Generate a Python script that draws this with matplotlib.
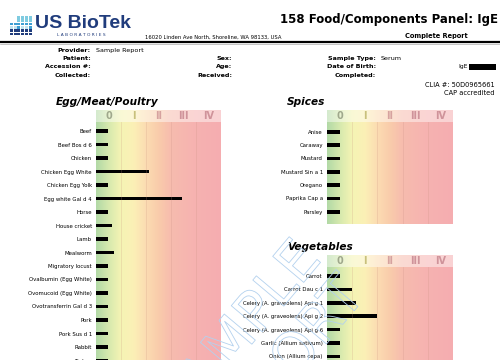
import numpy as np
import matplotlib
matplotlib.use('Agg')
import matplotlib.pyplot as plt
from matplotlib.colors import LinearSegmentedColormap
import matplotlib.patheffects as pe

# report data (bar lengths in class units, 0..5)
class_labels = ['0', 'I', 'II', 'III', 'IV']

egg_labels = ['Beef', 'Beef Bos d 6', 'Chicken', 'Chicken Egg White', 'Chicken Egg Yolk',
              'Egg white Gal d 4', 'Horse', 'House cricket', 'Lamb', 'Mealworm',
              'Migratory locust', 'Ovalbumin (Egg White)', 'Ovomucoid (Egg White)',
              'Ovotransferrin Gal d 3', 'Pork', 'Pork Sus d 1', 'Rabbit', 'Turkey']
egg_values = [0.48, 0.48, 0.48, 2.12, 0.48, 3.44, 0.48, 0.64, 0.48, 0.72,
              0.48, 0.48, 0.48, 0.48, 0.48, 0.48, 0.48, 0.48]

spice_labels = ['Anise', 'Caraway', 'Mustard', 'Mustard Sin a 1', 'Oregano',
                'Paprika Cap a', 'Parsley']
spice_values = [0.52, 0.52, 0.52, 0.52, 0.52, 0.52, 0.52]

veg_labels = ['Carrot', 'Carrot Dau c 1', 'Celery (A. graveolens) Api g 1',
              'Celery (A. graveolens) Api g 2', 'Celery (A. graveolens) Api g 6',
              'Garlic (Allium sativum)', 'Onion (Allium cepa)']
veg_values = [0.52, 1.0, 1.16, 2.0, 0.52, 0.52, 0.52]

W, H = 500, 360
fig = plt.figure(figsize=(5, 3.6), dpi=100)
fig.patch.set_facecolor('white')


def box(x0, y0, x1, y1):
    return [x0 / W, 1 - y1 / H, (x1 - x0) / W, (y1 - y0) / H]


bg = fig.add_axes([0, 0, 1, 1])
bg.set_xlim(0, W)
bg.set_ylim(H, 0)
bg.axis('off')

navy = '#203c7c'

# logo
for r in range(6):
    for c in range(6):
        if c < 2 and r < 2:
            continue
        if r < 2:
            col = '#7fcbe0'
        elif r < 4:
            col = '#3f9fd3' if (c in (2, 5) or r == 2) else '#c4e4ef'
        else:
            col = navy
        bg.add_patch(plt.Rectangle((10 + c * 3.7, 16 + r * 3.3), 3.0, 2.7, color=col, lw=0))
bg.text(35, 23, 'US BioTek', fontsize=14, fontweight='bold', color=navy,
        family='Liberation Sans', va='center', ha='left')
bg.text(81, 34.5, 'L A B O R A T O R I E S', fontsize=3.2, color=navy,
        va='center', ha='center')
bg.text(145, 37, '16020 Linden Ave North, Shoreline, WA 98133, USA', fontsize=3.8,
        va='center', ha='left')
bg.text(498, 20, '158 Food/Components Panel: IgE', fontsize=8.5, fontweight='bold',
        va='center', ha='right')
bg.text(436, 36, 'Complete Report', fontsize=4.8, fontweight='bold', va='center', ha='center')
bg.plot([0, W], [42, 42], color='k', lw=1.6)
bg.plot([0, W], [44, 44], color='#999999', lw=0.4)

# patient info block
rows_y = [50.5, 58.7, 66.9, 75.1]
left_keys = ['Provider:', 'Patient:', 'Accession #:', 'Collected:']
mid_keys = ['', 'Sex:', 'Age:', 'Received:']
right_keys = ['', 'Sample Type:', 'Date of Birth:', 'Completed:']
for yy, a, b, c in zip(rows_y, left_keys, mid_keys, right_keys):
    bg.text(91, yy, a, fontsize=4.6, fontweight='bold', ha='right', va='center')
    bg.text(232, yy, b, fontsize=4.6, fontweight='bold', ha='right', va='center')
    bg.text(376, yy, c, fontsize=4.6, fontweight='bold', ha='right', va='center')
bg.text(96, rows_y[0], 'Sample Report', fontsize=4.6, ha='left', va='center')
bg.text(381, rows_y[1], 'Serum', fontsize=4.6, ha='left', va='center')
bg.text(458, rows_y[2], 'IgE', fontsize=4.4, ha='left', va='center')
bg.add_patch(plt.Rectangle((469, 64), 27, 5.5, color='k', lw=0))
bg.text(495, 85, 'CLIA #: 50D0965661', fontsize=4.8, ha='right', va='center')
bg.text(495, 93.3, 'CAP accredited', fontsize=4.8, ha='right', va='center')

# class colour scale
stops = [(0.0, '#b2d9a6'), (0.5, '#d6e9ae'), (1.0, '#f5f4b4'), (1.5, '#fbf0b6'),
         (2.0, '#fcdcb2'), (2.5, '#f9ccab'), (3.0, '#f7bcae'), (4.0, '#f6b2b1'),
         (5.0, '#f5adb0')]
cmap = LinearSegmentedColormap.from_list('cls', [(p / 5, c) for p, c in stops])
grad = np.linspace(0, 1, 400).reshape(1, -1)
rgb = cmap(grad)[..., :3]
light = rgb * 0.55 + 0.45
num_colors = ['#9fa88c', '#c8c07c', '#d6a29f', '#cf939a', '#cf939a']


def panel(x0, x1, head_top, head_bot, row0, step, y_bottom, labels, values, title, title_y):
    bg.text(x0 - 40, title_y, title, fontsize=7.6, fontweight='bold', style='italic',
            ha='left', va='center')
    hx = fig.add_axes(box(x0, head_top, x1, head_bot))
    hx.imshow(light, extent=(0, 5, 0, 1), aspect='auto')
    for i, lab in enumerate(class_labels):
        hx.text(i + 0.5, 0.5, lab, color=num_colors[i], fontsize=7, fontweight='bold',
                ha='center', va='center')
    hx.set_xlim(0, 5)
    hx.set_ylim(0, 1)
    hx.axis('off')

    ax = fig.add_axes(box(x0, head_bot, x1, y_bottom))
    top = -(row0 - head_bot) / step
    bot = (y_bottom - row0) / step
    ax.imshow(rgb, extent=(0, 5, bot, top), aspect='auto')
    for k in range(1, 5):
        ax.axvline(k, color='#c89080', alpha=0.25, lw=0.6)
    ax.barh(range(len(values)), values, height=0.28, color='k')
    ax.set_xlim(0, 5)
    ax.set_ylim(bot, top)
    ax.set_yticks(range(len(labels)))
    ax.set_yticklabels(labels, fontsize=3.9)
    ax.tick_params(axis='y', length=0, pad=3)
    ax.set_xticks([])
    for s in ax.spines.values():
        s.set_visible(False)


panel(96, 221, 110, 122, 131, 13.5, 372, egg_labels, egg_values, 'Egg/Meat/Poultry', 102)
panel(327, 453, 110, 122, 131.7, 13.35, 224, spice_labels, spice_values, 'Spices', 102)
panel(327, 453, 255, 267, 276, 13.4, 372, veg_labels, veg_values, 'Vegetables', 247)

# watermark
wm = fig.add_axes([0, 0, 1, 1], zorder=10)
wm.set_xlim(0, W)
wm.set_ylim(H, 0)
wm.axis('off')
for txt, cx, cy in [('SAMPLE', 240, 335), ('REPORT', 285, 370)]:
    wm.text(cx, cy, txt, fontsize=40, color='none', rotation=50, ha='center',
            va='center', path_effects=[pe.Stroke(linewidth=0.6, foreground='#b3d1ee')])

fig.savefig('out.png', dpi=100)
